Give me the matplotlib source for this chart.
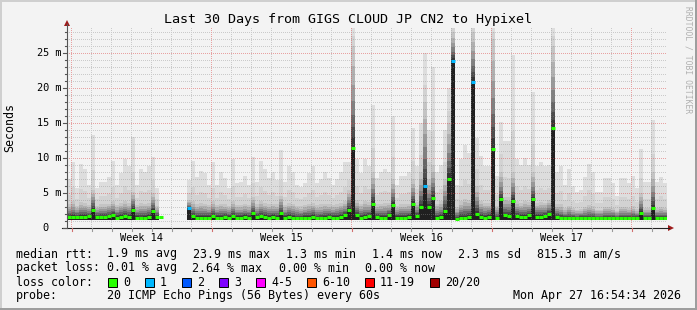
import numpy as np
import matplotlib
matplotlib.use("Agg")
import matplotlib.pyplot as plt
from matplotlib.patches import Rectangle, Polygon
from matplotlib.lines import Line2D

# Datos: 150 pasos de 4.8 h (30 dias), valores en ms
nan = np.nan
rtt_max = [
    7.0, 9.5, 5.7, 9.2, 8.5, 6.2, 13.3, 5.7, 6.6, 6.6,
    7.3, 9.6, 6.2, 7.8, 9.9, 8.9, 13.0, 6.2, 8.5, 8.0,
    8.8, 10.2, 5.7, 6.2, nan, nan, nan, nan, nan, nan,
    6.9, 9.6, 7.3, 8.2, 7.8, 6.2, 9.4, 6.2, 8.0, 7.1,
    5.7, 9.9, 6.4, 6.6, 7.5, 6.2, 10.2, 6.6, 9.6, 8.5,
    7.1, 8.0, 6.9, 11.2, 6.6, 8.8, 8.0, 6.2, 5.9, 6.5,
    7.8, 8.9, 6.4, 7.0, 8.0, 7.1, 6.2, 7.0, 8.0, 9.4,
    9.4, 30.0, 9.9, 7.8, 9.9, 8.9, 17.6, 7.1, 8.0, 8.5,
    8.0, 16.0, 6.2, 7.5, 7.5, 8.0, 14.3, 8.9, 15.0, 25.0,
    14.0, 23.0, 8.0, 9.0, 14.0, 20.0, 30.0, 6.2, 9.9, 11.9,
    10.7, 30.0, 12.9, 10.3, 8.9, 8.9, 30.0, 7.5, 15.2, 12.4,
    12.4, 24.7, 9.9, 9.0, 10.0, 9.0, 19.5, 8.9, 9.5, 8.9,
    9.0, 30.0, 8.0, 8.9, 6.2, 8.5, 6.0, 5.2, 5.5, 7.3,
    9.2, 8.0, 5.2, 5.2, 7.1, 7.1, 6.5, 4.6, 7.1, 7.1,
    6.5, 7.5, 5.7, 11.3, 6.6, 6.6, 15.5, 6.6, 7.3, 6.5,
]
# limite superior del humo denso (aprox. percentil 75)
rtt_upper = [
    3.4, 3.8, 3.2, 3.7, 3.6, 3.3, 5.5, 3.2, 3.4, 3.4,
    3.5, 3.9, 3.3, 3.6, 3.8, 3.6, 5.2, 3.3, 3.6, 3.5,
    3.6, 5.0, 3.2, 3.3, nan, nan, nan, nan, nan, nan,
    4.0, 3.8, 3.4, 3.6, 3.5, 3.3, 3.8, 3.3, 3.5, 3.4,
    3.2, 3.8, 3.3, 3.3, 3.5, 3.3, 4.4, 3.4, 3.8, 3.6,
    3.4, 3.5, 3.4, 4.6, 3.3, 3.6, 3.5, 3.2, 3.1, 3.3,
    3.5, 3.6, 3.3, 3.4, 3.5, 3.4, 3.3, 3.4, 3.6, 3.9,
    5.5, 26.0, 4.0, 3.5, 3.8, 3.7, 8.0, 3.4, 3.5, 3.6,
    3.6, 7.0, 3.2, 3.4, 3.4, 3.5, 7.0, 3.7, 8.0, 18.0,
    7.0, 9.0, 3.5, 3.8, 7.0, 15.0, 28.0, 3.0, 3.8, 4.2,
    4.0, 28.0, 6.0, 3.9, 3.6, 3.6, 27.0, 3.2, 8.0, 4.5,
    4.4, 8.0, 3.8, 3.6, 3.8, 3.7, 8.0, 3.6, 3.7, 3.6,
    4.0, 26.0, 3.4, 3.4, 2.8, 3.2, 2.8, 2.6, 2.7, 3.0,
    3.3, 3.1, 2.6, 2.6, 3.0, 3.0, 2.9, 2.5, 3.0, 3.0,
    2.9, 3.1, 2.7, 5.0, 2.9, 2.9, 8.0, 2.9, 3.0, 2.9,
]
rtt_median = [
    1.6, 1.6, 1.6, 1.6, 1.6, 1.7, 2.6, 1.6, 1.6, 1.6,
    1.7, 1.8, 1.5, 1.6, 1.7, 1.6, 2.6, 1.5, 1.4, 1.5,
    1.6, 2.4, 1.6, 1.6, nan, nan, nan, nan, nan, nan,
    2.8, 1.7, 1.5, 1.5, 1.5, 1.5, 1.7, 1.5, 1.5, 1.6,
    1.5, 1.7, 1.5, 1.5, 1.6, 1.5, 2.1, 1.6, 1.7, 1.6,
    1.5, 1.6, 1.5, 2.1, 1.5, 1.6, 1.5, 1.4, 1.4, 1.5,
    1.5, 1.6, 1.4, 1.4, 1.5, 1.6, 1.5, 1.5, 1.6, 1.8,
    2.6, 11.5, 1.8, 1.5, 1.6, 1.7, 3.5, 1.6, 1.5, 1.5,
    1.8, 3.3, 1.5, 1.5, 1.5, 1.6, 3.5, 1.7, 3.0, 6.0,
    3.0, 4.3, 1.5, 1.6, 2.5, 7.0, 23.9, 1.3, 1.5, 1.5,
    1.6, 20.9, 2.0, 1.6, 1.5, 1.6, 11.3, 1.4, 4.1, 1.8,
    1.7, 3.9, 1.7, 1.6, 1.6, 1.8, 4.1, 1.6, 1.6, 1.7,
    2.0, 14.3, 1.6, 1.4, 1.4, 1.4, 1.4, 1.4, 1.4, 1.4,
    1.4, 1.4, 1.4, 1.4, 1.4, 1.4, 1.4, 1.4, 1.4, 1.4,
    1.4, 1.4, 1.4, 2.1, 1.4, 1.4, 2.8, 1.4, 1.4, 1.4,
]
min_ping = 1.2
loss_steps = [30, 89, 96, 101]
loss_pings = [1, 1, 1, 1]

week_labels = ["Week 14", "Week 15", "Week 16", "Week 17"]
loss_legend = ["0", "1", "2", "3", "4-5", "6-10", "11-19", "20/20"]
loss_colors = ["#26ff00", "#00b8ff", "#0059ff", "#7e00ff", "#ff00ff",
               "#ff5500", "#ff0000", "#a10000"]

W, H = 697, 310
STEP = 4.8  # horas por paso
FONT = "DejaVu Sans Mono"
YTOP = 200 / 7


def fx(x):
    return x / W


def fy(y):
    return 1 - y / H


fig = plt.figure(figsize=(W / 100, H / 100), dpi=100)
fig.patch.set_facecolor("#f3f3f3")

ax = fig.add_axes([fx(67), fy(228), 600 / W, 200 / H])
ax.set_facecolor("#ffffff")
ax.set_xlim(0, 720)
ax.set_ylim(0, YTOP)
ax.set_axis_off()

mx = np.array(rtt_max)
up = np.array(rtt_upper)
med = np.array(rtt_median)
edges = np.arange(len(mx) + 1) * STEP


def ext(a):
    return np.append(a, a[-1])


# humo: gris claro hasta el maximo, gradiente oscuro hasta el limite denso
ax.fill_between(edges, min_ping, ext(mx), step="post", color="#dddddd", lw=0, zorder=2)
ax.fill_between(edges, min_ping, ext(up + 0.35 * (mx - up)), step="post",
                color="#d2d2d2", lw=0, zorder=2)
shades = [(1.00, "#c4c4c4"), (0.80, "#b0b0b0"), (0.62, "#999999"),
          (0.46, "#808080"), (0.32, "#666666"), (0.20, "#4d4d4d"),
          (0.10, "#363636")]
for frac, col in shades:
    top = med + frac * (up - med)
    ax.fill_between(edges, min_ping, ext(top), step="post", color=col, lw=0, zorder=2)
ax.fill_between(edges, min_ping, ext(med), step="post", color="#202020", lw=0, zorder=2)

# rejilla punteada semitransparente, pixel a pixel (200 x 600)
grid = np.zeros((200, 600, 4))
c_minor = (0.56, 0.56, 0.56, 0.40)
c_major = (0.87, 0.31, 0.31, 0.50)
for v in range(1, 29):
    if v % 5:
        grid[200 - 7 * v, ::2] = c_minor
for d in range(30):
    c = 4 + 20 * d
    if c < 600 and d % 7:
        grid[::2, c] = c_minor
for v in range(5, 29, 5):
    grid[200 - 7 * v, ::2] = c_major
for d in range(0, 30, 7):
    grid[::2, 4 + 20 * d] = c_major
ax.imshow(grid, extent=(0, 720, 0, YTOP), aspect="auto", interpolation="nearest",
          zorder=3)

# mediana coloreada por perdida
colors = [loss_colors[0]] * len(med)
for s, n in zip(loss_steps, loss_pings):
    colors[s] = loss_colors[n]
lc = ax.hlines(med, edges[:-1], edges[1:], colors=colors, lw=2.2, zorder=5)
lc.set_capstyle("butt")

# marco 3D
fig.add_artist(Rectangle((0, fy(2)), 1, 2 / H, transform=fig.transFigure, color="#cfcfcf", lw=0))
fig.add_artist(Rectangle((0, 0), 2 / W, 1, transform=fig.transFigure, color="#cfcfcf", lw=0))
fig.add_artist(Rectangle((0, 0), 1, 2 / H, transform=fig.transFigure, color="#9e9e9e", lw=0))
fig.add_artist(Rectangle((fx(W - 2), 0), 2 / W, 1, transform=fig.transFigure, color="#9e9e9e", lw=0))

# ejes y flechas
fig.add_artist(Line2D([fx(67), fx(67)], [fy(228), fy(24)], color="#555555", lw=0.8))
fig.add_artist(Line2D([fx(62), fx(669)], [fy(228), fy(228)], color="#222222", lw=0.8))
fig.add_artist(Polygon([[fx(64), fy(26)], [fx(70), fy(26)], [fx(67), fy(20)]],
                       closed=True, transform=fig.transFigure, color="#9e1b1b", lw=0))
fig.add_artist(Polygon([[fx(668), fy(225)], [fx(668), fy(231)], [fx(674), fy(228)]],
                       closed=True, transform=fig.transFigure, color="#9e1b1b", lw=0))
for v in range(0, 29):
    yy = 228 - 7 * v
    ln = 4 if v % 5 == 0 else 2
    fig.add_artist(Line2D([fx(67 - ln), fx(67)], [fy(yy), fy(yy)], color="#555555", lw=0.8))
for d in range(30):
    xx = 71.5 + 20 * d
    if xx > 667:
        break
    fig.add_artist(Line2D([fx(xx), fx(xx)], [fy(228), fy(231)],
                          color="#d07070" if d % 7 == 0 else "#999999", lw=0.8))

# textos
fig.text(fx(348), fy(19), "Last 30 Days from GIGS CLOUD JP CN2 to Hypixel",
         family=FONT, fontsize=9.6, ha="center", va="center")
fig.text(fx(10), fy(127), "Seconds", family=FONT, fontsize=8.4,
         rotation=90, ha="center", va="center")
fig.text(fx(688), fy(60), "RRDTOOL / TOBI OETIKER", family=FONT, fontsize=5.8,
         rotation=270, ha="center", va="center", color="#b0b0b0")

for v in range(0, 29, 5):
    lab = "0  " if v == 0 else f"{v} m"
    fig.text(fx(61), fy(228 - 7 * v), lab, family=FONT, fontsize=7.4,
             ha="right", va="center")
for i, lab in enumerate(week_labels):
    fig.text(fx(141 + 140.2 * i), fy(238), lab, family=FONT, fontsize=7.4,
             ha="center", va="center")

rows = [
    (254, [(16, "median rtt:"), (107, "1.9 ms avg"), (193, "23.9 ms max"),
           (286, "1.3 ms min"), (372, "1.4 ms now"), (458, "2.3 ms sd"),
           (537, "815.3 m am/s")]),
    (268, [(16, "packet loss:"), (107, "0.01 % avg"), (192, "2.64 % max"),
           (279, "0.00 % min"), (365, "0.00 % now")]),
    (282, [(16, "loss color:")]),
    (296, [(16, "probe:"), (107, "20 ICMP Echo Pings (56 Bytes) every 60s")]),
]
for yy, items in rows:
    for xx, s in items:
        fig.text(fx(xx), fy(yy), s, family=FONT, fontsize=8.4, ha="left", va="center")
fig.text(fx(681), fy(296), "Mon Apr 27 16:54:34 2026", family=FONT, fontsize=8.4,
         ha="right", va="center")

box_x = [108, 145, 182, 219, 256, 307, 365, 430]
for bx, lab, col in zip(box_x, loss_legend, loss_colors):
    fig.add_artist(Rectangle((fx(bx), fy(287)), 9 / W, 9 / H, transform=fig.transFigure,
                             facecolor=col, edgecolor="#000000", lw=0.7))
    fig.text(fx(bx + 15), fy(282), lab, family=FONT, fontsize=8.4, ha="left", va="center")

fig.savefig("out.png", dpi=100, facecolor=fig.get_facecolor())
